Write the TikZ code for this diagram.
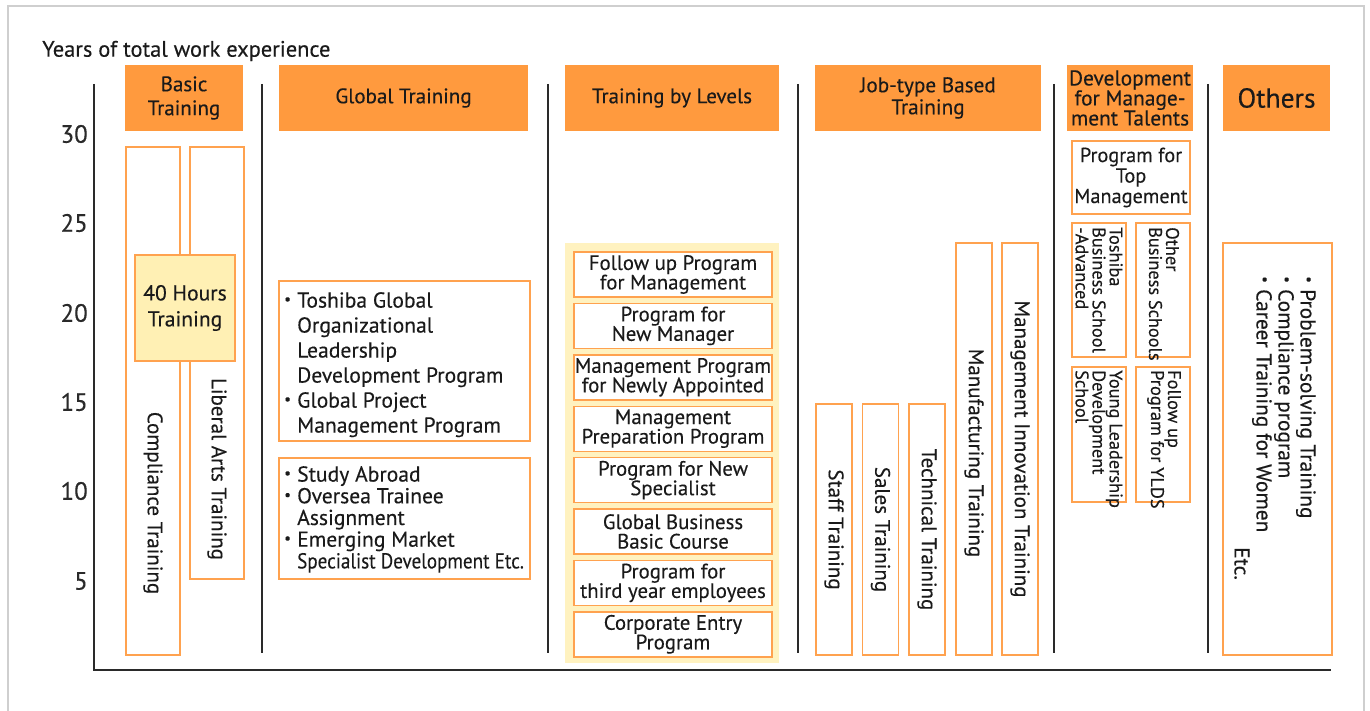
\documentclass[tikz,border=0pt]{standalone}
\usepackage{graphicx}
\usepackage{fontspec}
\setmainfont[FakeBold=0.25]{PT Sans}
\definecolor{hdr}{HTML}{FF9A3E}
\definecolor{obd}{HTML}{FFA24F}
\definecolor{ylw}{HTML}{FFF0B4}
\definecolor{bgy}{HTML}{FFF2C0}
\definecolor{ink}{HTML}{1A1A1A}
\definecolor{axis}{HTML}{2A2A2A}
\definecolor{frm}{HTML}{CFCFCF}
\newcommand{\tbul}{\makebox[13pt][l]{\raisebox{0.16em}{\scalebox{0.7}{\textbullet}}}}
\newcommand{\tind}{\hspace*{13pt}}
\tikzset{
  hdrbox/.style={fill=hdr, draw=none, inner sep=0pt, outer sep=0pt, align=center, text=ink,
    font=\fontsize{21}{24}\selectfont},
  obox/.style={draw=obd, line width=1.4pt, inner sep=0pt, outer sep=0pt, fill=white, text=ink},
  lvlbox/.style={obox, minimum width=198pt, minimum height=45pt, align=center,
    font=\fontsize{20.8}{19.5}\selectfont},
  vtext/.style={rotate=-90, inner sep=0pt, text=ink, font=\fontsize{21}{21}\selectfont},
  smalltext/.style={rotate=-90, inner sep=0pt, text=ink, align=left, font=\fontsize{18.3}{17}\selectfont},
  ylab/.style={anchor=east, inner sep=0pt, text=axis, font=\fontsize{25}{25}\selectfont},
  sepline/.style={draw=axis, line width=1.8pt},
}
\begin{document}
\begin{tikzpicture}[x=1pt, y=-1pt]
\useasboundingbox (0,0) rectangle (1370,711);
% frame
\draw[frm, line width=1.5pt] (8,711) -- (8,6) -- (1364,6) -- (1364,711);

% title and y axis
\node[anchor=west, inner sep=0pt, text=ink, font=\fontsize{22.4}{22}\selectfont] (title) at (42,51) {Years of total work experience};
\coordinate (axtop) at (94,84);
\coordinate (axorg) at (94,670);
\coordinate (axend) at (1331,670);
\draw[draw=axis, line width=2pt] (axtop) -- (axorg) -- (axend);
\node[ylab] (y30) at (88,134) {30};
\node[ylab] (y25) at (88,223) {25};
\node[ylab] (y20) at (88,313) {20};
\node[ylab] (y15) at (88,402) {15};
\node[ylab] (y10) at (88,491) {10};
\node[ylab] (y5) at (88,581) {5};

% separators
\foreach \sx/\nm in {262/a, 548/b, 798/c, 1054/d, 1208/e}{
  \coordinate (s\nm t) at (\sx,84);
  \coordinate (s\nm b) at (\sx,653);
  \draw[sepline] (s\nm t) -- (s\nm b);
}

% headers
\node[hdrbox, minimum width=118pt, minimum height=66pt] (hbasic) at (184,98) {Basic\\Training};
\node[hdrbox, minimum width=249pt, minimum height=66pt] (hglobal) at (403.5,98) {Global Training};
\node[hdrbox, minimum width=214pt, minimum height=66pt] (hlevels) at (672,98) {Training by Levels};
\node[hdrbox, minimum width=226pt, minimum height=66pt, font=\fontsize{21.2}{22}\selectfont] (hjob) at (928,98) {Job-type Based\\Training};
\node[hdrbox, minimum width=126pt, minimum height=66pt, font=\fontsize{21.4}{20}\selectfont] (hdev) at (1130,98) {Development\\for Manage-\\ment Talents};
\node[hdrbox, minimum width=107pt, minimum height=66pt, font=\fontsize{27.5}{27}\selectfont] (hothers) at (1276.5,98) {Others};

% basic training
\node[obox, minimum width=54pt, minimum height=508pt] (compl) at (153,401) {};
\node[obox, minimum width=54pt, minimum height=432pt] (liberal) at (217,363) {};
\node[obox, fill=ylw, minimum width=100pt, minimum height=106pt, align=center,
  font=\fontsize{21.6}{26}\selectfont] (forty) at (185,308) {40 Hours\\Training};
\node[vtext] (compltxt) at (153,503) {Compliance Training};
\node[vtext] (libtxt) at (217,469) {Liberal Arts Training};

% global training
\node[obox, minimum width=251pt, minimum height=160pt] (glob1) at (404.5,361) {};
\node[anchor=north west, inner sep=0pt, align=left, text=ink, font=\fontsize{21.6}{25}\selectfont] (glob1txt) at (284,292)
  {\tbul Toshiba Global\\ \tind Organizational\\ \tind Leadership\\ \tind Development Program\\ \tbul Global Project\\ \tind Management Program};
\node[obox, minimum width=251pt, minimum height=121pt] (glob2) at (404.5,518.5) {};
\node[anchor=north west, inner sep=0pt, align=left, text=ink, font=\fontsize{21.6}{21.7}\selectfont] (glob2txt) at (284,466)
  {\tbul Study Abroad\\ \tbul Oversea Trainee\\ \tind Assignment\\ \tbul Emerging Market\\ \tind \scalebox{0.885}[1]{Specialist Development Etc.}};

% training by levels
\fill[bgy] (565,243) rectangle (779,663);
\node[lvlbox] (lv1) at (673,274.5) {Follow up Program\\for Management};
\node[lvlbox] (lv2) at (673,325.9) {Program for\\New Manager};
\node[lvlbox] (lv3) at (673,377.3) {Management Program\\for Newly Appointed};
\node[lvlbox] (lv4) at (673,428.7) {Management\\Preparation Program};
\node[lvlbox] (lv5) at (673,480.1) {Program for New\\Specialist};
\node[lvlbox] (lv6) at (673,531.5) {Global Business\\Basic Course};
\node[lvlbox] (lv7) at (673,582.9) {Program for\\third year employees};
\node[lvlbox] (lv8) at (673,634.3) {Corporate Entry\\Program};

% job-type based
\node[obox, minimum width=36pt, minimum height=251pt] (staff) at (834,529.5) {};
\node[obox, minimum width=36pt, minimum height=251pt] (sales) at (880.5,529.5) {};
\node[obox, minimum width=36pt, minimum height=251pt] (tech) at (927,529.5) {};
\node[obox, minimum width=36pt, minimum height=412pt] (manuf) at (974,449) {};
\node[obox, minimum width=36pt, minimum height=412pt] (mginn) at (1020,449) {};
\node[vtext] (stafftxt) at (staff.center) {Staff Training};
\node[vtext] (salestxt) at (sales.center) {Sales Training};
\node[vtext] (techtxt) at (tech.center) {Technical Training};
\node[vtext] (manuftxt) at (974,453) {Manufacturing Training};
\node[vtext] (mginntxt) at (mginn.center) {Management Innovation Training};

% development for management talents
\node[obox, minimum width=118pt, minimum height=73pt, align=center, font=\fontsize{20.3}{20.5}\selectfont] (topm) at (1131,177.5) {Program for\\Top\\Management};
\node[obox, minimum width=54pt, minimum height=134pt] (tbs) at (1099,290) {};
\node[obox, minimum width=54pt, minimum height=134pt] (obs) at (1163,290) {};
\node[obox, minimum width=54pt, minimum height=135pt] (ylds) at (1099,434.5) {};
\node[obox, minimum width=54pt, minimum height=135pt] (fylds) at (1163,434.5) {};
\node[smalltext, anchor=west] (tbstxt) at (1099,227) {Toshiba\\Business School\\-Advanced};
\node[smalltext, anchor=west] (obstxt) at (1164,227) {Other\\Business Schools};
\node[smalltext, anchor=west] (yldstxt) at (1099,370) {Young Leadership\\Development\\School};
\node[smalltext, anchor=west] (fyldstxt) at (1164,370) {Follow up\\Program for YLDS};

% others
\node[obox, minimum width=109pt, minimum height=412pt] (others) at (1277.5,449) {};
\node[rotate=-90, anchor=west, inner sep=0pt, align=left, text=ink, font=\fontsize{21.4}{22}\selectfont] (otherstxt) at (1275,276)
  {\tbul Problem-solving Training\\ \tbul Compliance program\\ \tbul Career Training for Women\\ \hspace*{271pt}Etc.};
\end{tikzpicture}
\end{document}
